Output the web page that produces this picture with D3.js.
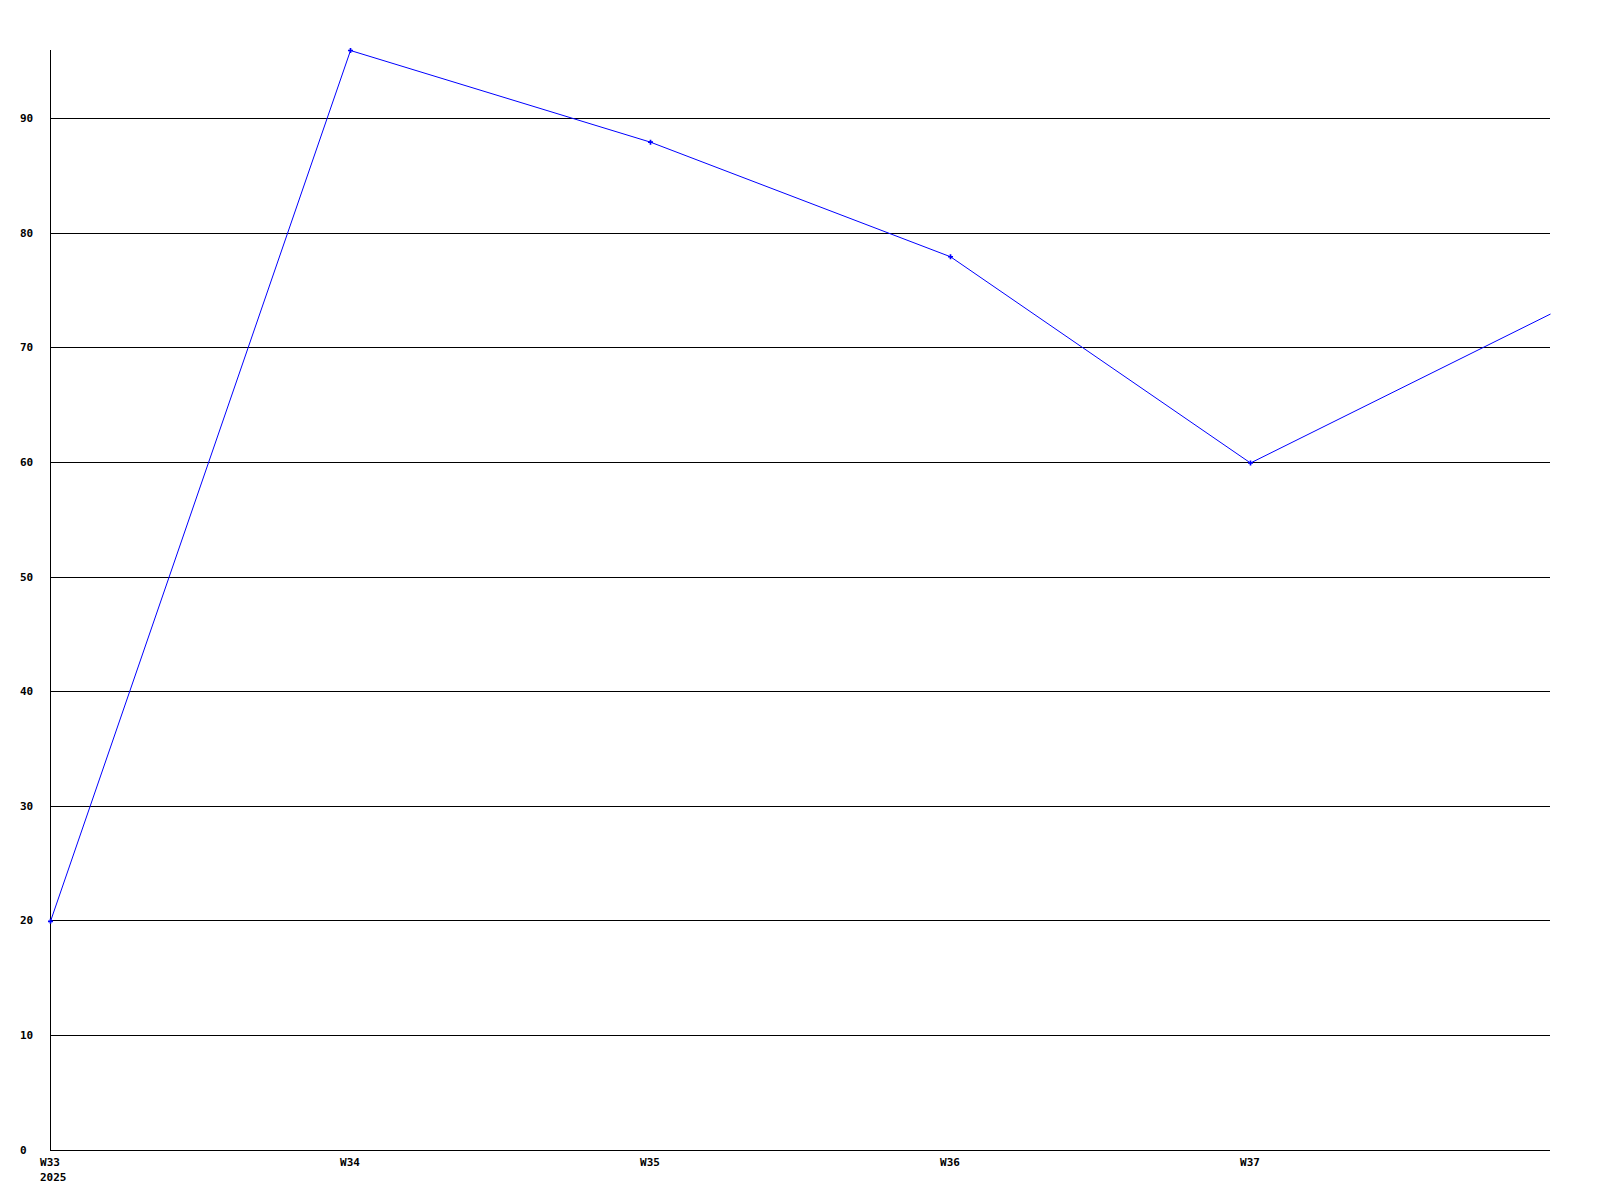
<!DOCTYPE html>
<html>
<head>
<meta charset="utf-8">
<script src="https://cdn.jsdelivr.net/npm/d3@7"></script>
<style>
  body { margin: 0; background: #fff; }
  svg text { font-family: "DejaVu Sans Mono", monospace; font-weight: bold; font-size: 11px; fill: #000; }
</style>
</head>
<body>
<script>
// weekly values
var weeks = ["W33", "W34", "W35", "W36", "W37", "W38"];
var weekLabels = ["W33", "W34", "W35", "W36", "W37", ""];
var values = [20, 96, 88, 78, 60, 73];
var yTicks = [0, 10, 20, 30, 40, 50, 60, 70, 80, 90];
var yearLabel = "2025";

var margin = {top: 50, right: 50, bottom: 50, left: 50};
var width = 1600 - margin.left - margin.right;
var height = 1200 - margin.top - margin.bottom;

var svg = d3.select("body").append("svg")
    .attr("width", 1600)
    .attr("height", 1200);

var chart = svg.append("g")
    .attr("transform", "translate(" + margin.left + "," + margin.top + ")");

var x = d3.scalePoint().domain(weeks).range([0, width]);
var y = d3.scaleLinear().domain([0, 96]).range([height, 0]);

// grid lines (no line at 0, the axis covers it)
yTicks.filter(function(d) { return d > 0; }).forEach(function(t) {
    var yy = Math.floor(y(t)) + 0.5;
    chart.append("line")
        .attr("x1", 0).attr("x2", width)
        .attr("y1", yy).attr("y2", yy)
        .attr("stroke", "#000")
        .attr("stroke-width", 1);
});

// axes
chart.append("line")
    .attr("x1", 0.5).attr("x2", 0.5)
    .attr("y1", 0).attr("y2", height)
    .attr("stroke", "#000");
chart.append("line")
    .attr("x1", 0).attr("x2", width)
    .attr("y1", height + 0.5).attr("y2", height + 0.5)
    .attr("stroke", "#000");

// y labels
yTicks.forEach(function(t) {
    chart.append("text")
        .attr("x", -30)
        .attr("y", Math.floor(y(t)) + 4)
        .attr("text-anchor", "start")
        .text(t);
});

// x labels
weeks.forEach(function(w, i) {
    chart.append("text")
        .attr("x", x(w))
        .attr("y", height + 16)
        .attr("text-anchor", "middle")
        .text(weekLabels[i]);
});
chart.append("text")
    .attr("x", -10)
    .attr("y", height + 31)
    .attr("text-anchor", "start")
    .text(yearLabel);

// line
var line = d3.line()
    .x(function(d, i) { return x(weeks[i]) + 0.5; })
    .y(function(d) { return y(d) + 0.5; });

chart.append("path")
    .datum(values)
    .attr("d", line)
    .attr("fill", "none")
    .attr("stroke", "#0000ff")
    .attr("stroke-width", 1);

// markers
chart.selectAll(".dot")
    .data(values.slice(0, 5))
    .enter()
    .append("path")
        .attr("class", "dot")
        .attr("d", d3.symbol().type(d3.symbolCross).size(14))
        .attr("transform", function(d, i) { return "translate(" + (x(weeks[i]) + 0.5) + "," + (y(d) + 0.5) + ")"; })
        .attr("fill", "#0000ff");
</script>
</body>
</html>
